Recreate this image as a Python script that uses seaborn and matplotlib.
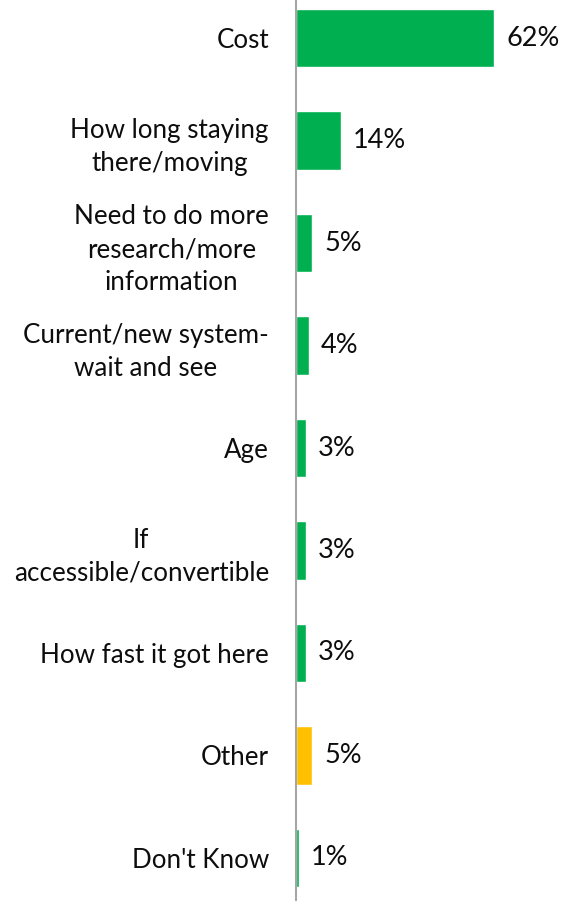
import matplotlib
matplotlib.use("Agg")
import matplotlib.pyplot as plt
import seaborn as sns
import pandas as pd

# Reasons given, with share of respondents (%)
categories = [
    "Cost",
    "How long staying\nthere/moving",
    "Need to do more\nresearch/more\ninformation",
    "Current/new system-\nwait and see",
    "Age",
    "If\naccessible/convertible",
    "How fast it got here",
    "Other",
    "Don't Know",
]
values = [62, 14, 5, 4, 3, 3, 3, 5, 1]
colors = ["#00B050"] * 7 + ["#FFC000", "#00B050"]

sns.set_theme(style="white")
plt.rcParams["font.family"] = ["Lato", "DejaVu Sans"]

df = pd.DataFrame({"reason": categories, "pct": values})

fig = plt.figure(figsize=(5.65, 9.01), dpi=100)
ax = fig.add_axes([296 / 565, -8 / 901, 0.42, 922 / 901])

sns.barplot(data=df, y="reason", x="pct", hue="reason", palette=colors,
            order=categories, hue_order=categories, legend=False,
            width=0.57, saturation=1, orient="h", ax=ax)

ax.set_xlim(0, 74.3)
ax.set_ylim(8.5, -0.5)
ax.set_xlabel("")
ax.set_ylabel("")
ax.set_xticks([])

for side in ("top", "right", "bottom"):
    ax.spines[side].set_visible(False)
ax.spines["left"].set_color("#A6A6A6")
ax.spines["left"].set_linewidth(1.5)

ax.tick_params(axis="y", length=0, pad=19.5, labelsize=18.7, labelcolor="#0D0D0D")
for lbl in ax.get_yticklabels():
    lbl.set_multialignment("center")
    lbl.set_linespacing(1.4)

for i, v in enumerate(values):
    ax.annotate(f"{v}%", xy=(v, i), xytext=(12, 0), textcoords="offset pixels",
                va="center", ha="left", fontsize=19.5, color="#0D0D0D")

fig.savefig("out.png", dpi=100)
